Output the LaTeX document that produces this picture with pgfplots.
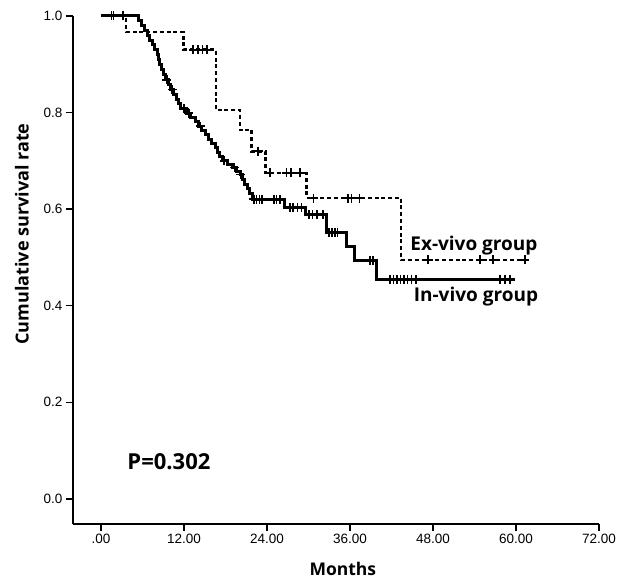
\documentclass[border=0pt]{standalone}
\usepackage{pgfplots}
\pgfplotsset{compat=1.18}
\usepackage{fontspec}
\setmainfont{Liberation Sans}
\newfontfamily\lblfont{Open Sans}
\begin{document}
\begin{tikzpicture}
\begin{axis}[
  scale only axis, width=526bp, height=508bp,
  xmin=-4.05, xmax=72, ymin=-0.052, ymax=1,
  axis x line=bottom, axis y line=left,
  axis line style={-, line width=1.6bp},
  xtick={0,12,24,36,48,60,72},
  xticklabels={.00,12.00,24.00,36.00,48.00,60.00,72.00},
  ytick={0,0.2,0.4,0.6,0.8,1.0},
  yticklabels={0.0,0.2,0.4,0.6,0.8,1.0},
  tick align=outside, major tick length=7bp,
  every tick/.style={black, line width=1.4bp},
  tick label style={font=\fontsize{13.5bp}{15bp}\selectfont},
  xlabel={\lblfont\bfseries\fontsize{17.5bp}{19bp}\selectfont Months},
  ylabel={\lblfont\bfseries\fontsize{18bp}{20bp}\selectfont Cumulative survival rate},
  xlabel style={at={(axis description cs:0.513,-0.088)}, anchor=center},
  ylabel style={at={(axis description cs:-0.097,0.571)}, anchor=center},
  clip=false,
]
\coordinate (O) at (rel axis cs:0,0);
% Ex-vivo group (dashed)
\addplot[const plot, black, line width=2.6bp, dash pattern=on 4bp off 2.8bp] coordinates {
(0,1.0) (3.6,0.967) (11.9,0.930) (16.6,0.805) (20.1,0.764) (21.8,0.720)
(23.8,0.675) (29.7,0.623) (43.4,0.495) (61.3,0.495)};
% In-vivo group (solid)
\addplot[const plot, black, line width=3bp] coordinates {
(0,1.0) (5.4,0.990) (5.9,0.980) (6.3,0.970) (6.7,0.960) (7.0,0.950)
(7.4,0.940) (7.8,0.930) (8.1,0.920) (8.3,0.910) (8.5,0.900) (8.7,0.890)
(9.0,0.879) (9.3,0.868) (9.7,0.858) (10.1,0.848) (10.5,0.838) (10.9,0.828)
(11.2,0.818) (11.5,0.808) (12.3,0.799) (13.0,0.790) (13.6,0.781) (14.1,0.772)
(14.6,0.763) (15.1,0.754) (15.5,0.745) (16.0,0.736) (16.5,0.727) (16.9,0.718)
(17.2,0.709) (17.6,0.700) (18.3,0.693) (19.0,0.686) (19.6,0.679) (20.1,0.672)
(20.5,0.662) (20.8,0.652) (21.2,0.642) (21.5,0.632) (21.9,0.621) (26.6,0.603)
(29.6,0.588) (32.6,0.551) (35.5,0.522) (36.6,0.493) (39.9,0.455) (59.8,0.455)};
% censor marks, ex-vivo
\addplot[only marks, mark=+, mark size=4.5bp, mark options={line width=1.6bp}, black] coordinates {
(1.5,1.0) (13.3,0.930) (14.0,0.930) (14.7,0.930) (15.3,0.930) (22.7,0.720)
(24.4,0.675) (26.8,0.675) (27.5,0.675) (28.8,0.675)
(30.7,0.623) (35.7,0.623) (36.2,0.623) (37.4,0.623)
(47.3,0.495) (54.8,0.495) (56.7,0.495) (61.3,0.495)};
% censor marks, in-vivo
\addplot[only marks, mark=+, mark size=4.5bp, mark options={line width=1.6bp}, black] coordinates {
(1.8,1.0) (3.2,1.0) (9.5,0.868) (10.3,0.848) (12.0,0.808) (12.7,0.799)
(14.4,0.772) (17.8,0.700) (19.3,0.686) (20.2,0.672)
(22.1,0.621) (22.5,0.621) (22.9,0.621) (23.3,0.621) (25.0,0.621) (25.4,0.621) (25.9,0.621)
(27.3,0.603) (27.8,0.603) (28.4,0.603) (29.0,0.603)
(30.1,0.588) (30.6,0.588) (31.2,0.588) (32.1,0.588)
(33.0,0.551) (33.4,0.551) (33.8,0.551) (34.2,0.551)
(38.9,0.493) (39.3,0.493)
(41.8,0.455) (42.3,0.455) (42.8,0.455) (43.3,0.455) (43.8,0.455) (44.3,0.455) (44.9,0.455) (45.5,0.455)
(57.7,0.455) (58.4,0.455) (59.1,0.455)};
\node[anchor=west, inner sep=0pt, font=\lblfont\bfseries\fontsize{19bp}{21bp}\selectfont] at (axis cs:44.7,0.524) {Ex-vivo group};
\node[anchor=west, inner sep=0pt, font=\lblfont\bfseries\fontsize{19bp}{21bp}\selectfont] at (axis cs:45.2,0.418) {In-vivo group};
\node[anchor=west, inner sep=0pt, font=\lblfont\bfseries\fontsize{22bp}{24bp}\selectfont] at (axis cs:3.8,0.077) {P=0.302};
\end{axis}
\pgfresetboundingbox
\path[use as bounding box] ([shift={(-73bp,-58bp)}]O) rectangle ([shift={(550bp,524bp)}]O);
\end{tikzpicture}
\end{document}
